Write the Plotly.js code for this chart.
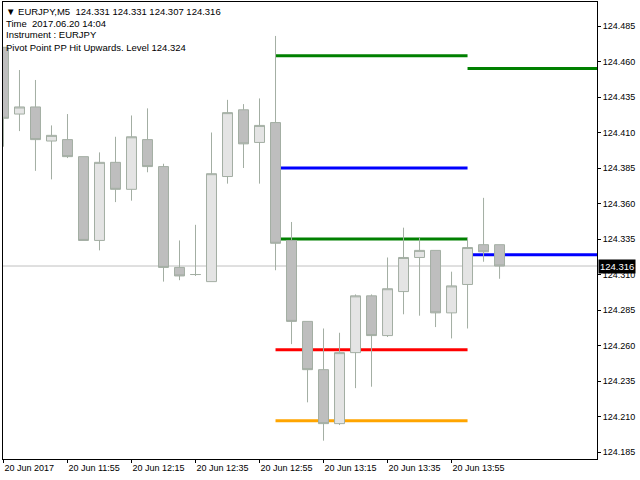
<!DOCTYPE html>
<html>
<head>
<meta charset="utf-8">
<script src="https://cdn.plot.ly/plotly-3.0.1.min.js"></script>
<style>html,body{margin:0;padding:0;background:#fff}#chart{width:640px;height:480px}</style>
</head>
<body>
<div id="chart"></div>
<script>
// Bar index (M5 bars)
const barIndex = [0,1,2,3,4,5,6,7,8,9,10,11,12,13,14,15,16,17,18,19,20,21,22,23,24,25,26,27,28,29,30,31];
const openP  = [124.470,124.423,124.428,124.404,124.405,124.393,124.334,124.389,124.370,124.405,124.386,124.315,124.310,124.305,124.379,124.426,124.403,124.417,124.334,124.277,124.243,124.205,124.255,124.295,124.267,124.298,124.322,124.327,124.283,124.303,124.331,124.331];
const highP  = [124.470,124.454,124.447,124.415,124.423,124.393,124.396,124.407,124.422,124.427,124.388,124.334,124.345,124.410,124.433,124.430,124.434,124.478,124.347,124.277,124.272,124.269,124.296,124.296,124.322,124.343,124.336,124.327,124.312,124.336,124.364,124.331];
const lowP   = [124.400,124.411,124.383,124.377,124.392,124.334,124.327,124.361,124.362,124.382,124.305,124.306,124.309,124.305,124.374,124.385,124.374,124.313,124.261,124.220,124.193,124.204,124.230,124.231,124.266,124.282,124.281,124.273,124.265,124.272,124.319,124.307];
const closeP = [124.420,124.428,124.405,124.408,124.393,124.334,124.389,124.370,124.407,124.386,124.315,124.309,124.310,124.381,124.424,124.402,124.415,124.332,124.277,124.243,124.205,124.255,124.295,124.267,124.300,124.322,124.327,124.283,124.302,124.329,124.326,124.316];

// Pivot levels, first period (bars 17..29) and current period (bar 29..)
const pivotA = [124.464, 124.385, 124.335, 124.257, 124.207];
const pivotAColors = ['#008000','#0000ff','#008000','#ff0000','#ffa500'];
const pivotAStart = 17, pivotAEnd = 29;
const pivotB = [124.455, 124.324];
const pivotBColors = ['#008000','#0000ff'];
const pivotBStart = 29;

const bidPrice = 124.316;

const tickBars = [0,4,8,12,16,20,24,28];
const tickLabels = ['20 Jun 2017','20 Jun 11:55','20 Jun 12:15','20 Jun 12:35','20 Jun 12:55','20 Jun 13:15','20 Jun 13:35','20 Jun 13:55'];

const headerLines = [
  '\u25BC EURJPY,M5  124.331 124.331 124.307 124.316',
  'Time  2017.06.20 14:04',
  'Instrument : EURJPY',
  'Pivot Point PP Hit Upwards. Level 124.324'
];

const xRange = [-0.03, 37.09];
const yRange = [124.1801, 124.5019];
const FONT = 'Liberation Sans, Arial, sans-serif';

const shapes = [];
shapes.push({type:'line', layer:'below', xref:'paper', yref:'y', x0:0, x1:1, y0:bidPrice, y1:bidPrice, line:{color:'#c0c0c0', width:1}});
pivotA.forEach((v,i)=>shapes.push({type:'line', layer:'below', xref:'x', yref:'y', x0:pivotAStart, x1:pivotAEnd, y0:v, y1:v, line:{color:pivotAColors[i], width:3}}));
pivotB.forEach((v,i)=>shapes.push({type:'line', layer:'below', xref:'x', yref:'y', x0:pivotBStart, x1:xRange[1], y0:v, y1:v, line:{color:pivotBColors[i], width:3}}));

const outline = '#a3aea3';
const trace = {
  type:'candlestick', x:barIndex, open:openP, high:highP, low:lowP, close:closeP,
  increasing:{line:{color:outline, width:1}, fillcolor:'#e4e4e4'},
  decreasing:{line:{color:outline, width:1}, fillcolor:'#bebebe'},
  whiskerwidth:0, hoverinfo:'none', showlegend:false
};

const lineYs = [0.9803, 0.9540, 0.9278, 0.9015];
const annotations = headerLines.map((t,i)=>({
  xref:'paper', yref:'paper', x:0.002, y:lineYs[i], xanchor:'left', yanchor:'middle',
  text:t, showarrow:false, font:{family:FONT, size:9.5, color:'#000'}
}));
annotations.push({xref:'paper', yref:'y', x:1, y:bidPrice, xanchor:'left', yanchor:'middle', xshift:1,
  text:bidPrice.toFixed(3), showarrow:false, bgcolor:'#000', borderpad:1,
  font:{family:FONT, size:9.5, color:'#fff'}});

const layout = {
  width:640, height:480,
  margin:{l:3, r:43, t:2, b:21, pad:0},
  paper_bgcolor:'#fff', plot_bgcolor:'#fff',
  showlegend:false,
  boxgap:0.25, boxgroupgap:0.17,
  xaxis:{range:xRange, type:'linear', rangeslider:{visible:false}, showgrid:false, zeroline:false,
    showline:true, mirror:true, linecolor:'#000', linewidth:1,
    tickmode:'array', tickvals:tickBars, ticktext:tickLabels, ticks:'outside', ticklen:3, tickcolor:'#000',
    ticklabelposition:'outside right', tickfont:{family:FONT, size:9, color:'#000'}, fixedrange:true},
  yaxis:{range:yRange, side:'right', showgrid:false, zeroline:false,
    showline:true, mirror:true, linecolor:'#000', linewidth:1,
    tick0:124.185, dtick:0.025, tickformat:'.3f', ticks:'outside', ticklen:3, tickcolor:'#000',
    tickfont:{family:FONT, size:9, color:'#000'}, fixedrange:true},
  shapes:shapes, annotations:annotations
};

Plotly.newPlot('chart', [trace], layout, {staticPlot:true, displayModeBar:false});
</script>
</body>
</html>
